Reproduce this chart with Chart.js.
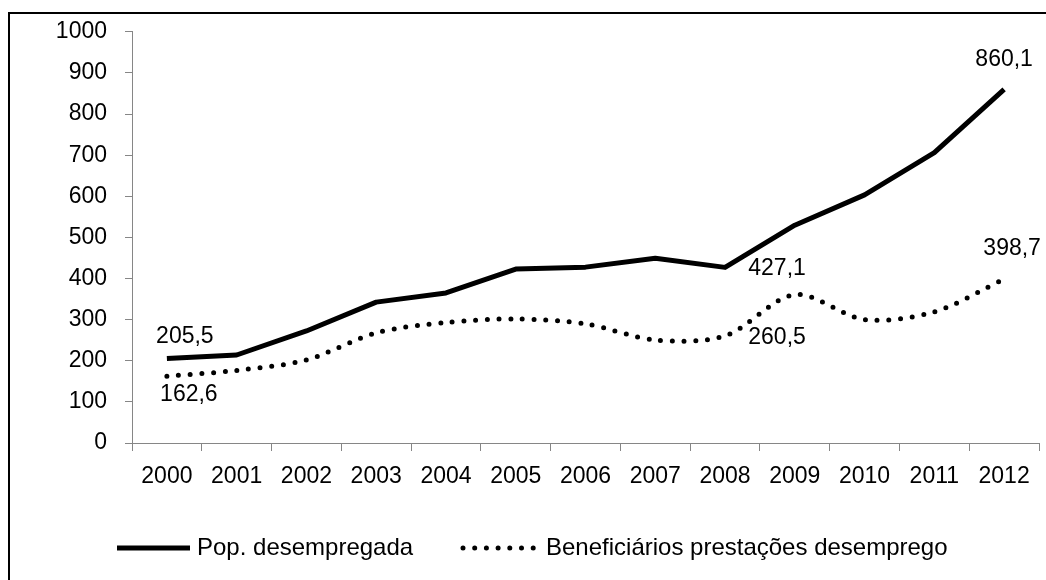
<!DOCTYPE html>
<html>
<head>
<meta charset="utf-8">
<script src="https://cdn.jsdelivr.net/npm/chart.js@4/dist/chart.umd.min.js"></script>
<style>
  html, body { margin: 0; padding: 0; background: #ffffff; }
  #wrap { width: 1046px; height: 580px; position: relative; }
</style>
</head>
<body>
<div id="wrap"><canvas id="grafico"></canvas></div>
<script>
// Datos (milhares)
const anos = ['2000','2001','2002','2003','2004','2005','2006','2007','2008','2009','2010','2011','2012'];
const popDesempregada = [205.5, 214, 272.5, 342.6, 365, 422.9, 427.7, 449.4, 427.1, 529.7, 603.5, 706, 860.1];
const beneficiarios = [162.6, 176.5, 202, 268, 293, 301.7, 289.7, 250.4, 260.5, 361, 300, 319, 398.7];
const rotulosPop = ['205,5', null, null, null, null, null, null, null, '427,1', null, null, null, '860,1'];
const rotulosBenef = ['162,6', null, null, null, null, null, null, null, '260,5', null, null, null, '398,7'];
const yTicks = [0, 100, 200, 300, 400, 500, 600, 700, 800, 900, 1000];

const FONTE = "'Liberation Sans', Arial, sans-serif";
const cinzaEixo = '#868686';

// deslocamento dos rótulos em relação ao ponto (px)
const posRotulos = [
  { 0: [18, -22], 8: [52, 1], 12: [0, -30] },
  { 0: [22, 19], 8: [52, 2], 12: [8, -30] }
];

// moldura à volta do gráfico
const moldura = {
  id: 'moldura',
  beforeDraw(chart) {
    const ctx = chart.ctx;
    ctx.save();
    ctx.strokeStyle = '#000';
    ctx.lineWidth = 2;
    ctx.strokeRect(9, 13, chart.width + 20, chart.height + 20);
    ctx.restore();
  }
};

// rótulos de valores
const rotulos = {
  id: 'rotulos',
  afterDatasetsDraw(chart) {
    const ctx = chart.ctx;
    ctx.save();
    ctx.font = '23px ' + FONTE;
    ctx.fillStyle = '#000';
    ctx.textAlign = 'center';
    ctx.textBaseline = 'middle';
    chart.data.datasets.forEach((ds, i) => {
      const meta = chart.getDatasetMeta(i);
      ds.rotulos.forEach((txt, j) => {
        if (!txt) return;
        const p = meta.data[j];
        const off = posRotulos[i][j] || [0, -20];
        ctx.fillText(txt, p.x + off[0], p.y + off[1]);
      });
    });
    ctx.restore();
  }
};

// legenda desenhada à mão (espaçamento como no original)
const legenda = {
  id: 'legenda',
  afterDraw(chart) {
    const ctx = chart.ctx;
    const y = 548;
    const itens = [
      { x: 117, gap: 7 },
      { x: 463, gap: 10 }
    ];
    ctx.save();
    chart.data.datasets.forEach((ds, i) => {
      const it = itens[i];
      ctx.beginPath();
      ctx.strokeStyle = ds.borderColor;
      ctx.lineWidth = ds.borderWidth;
      ctx.lineCap = ds.borderCapStyle || 'butt';
      ctx.setLineDash(ds.borderDash || []);
      ctx.moveTo(it.x, y);
      ctx.lineTo(it.x + 73, y);
      ctx.stroke();
      ctx.setLineDash([]);
      ctx.font = '24px ' + FONTE;
      ctx.fillStyle = '#000';
      ctx.textAlign = 'left';
      ctx.textBaseline = 'middle';
      ctx.fillText(ds.label, it.x + 73 + it.gap, y);
    });
    ctx.restore();
  }
};

new Chart(document.getElementById('grafico'), {
  type: 'line',
  data: {
    labels: anos,
    datasets: [
      {
        label: 'Pop. desempregada',
        data: popDesempregada,
        rotulos: rotulosPop,
        borderColor: '#000',
        borderWidth: 5,
        borderCapStyle: 'butt',
        borderJoinStyle: 'round',
        pointRadius: 0,
        tension: 0,
        fill: false
      },
      {
        label: 'Beneficiários prestações desemprego',
        data: beneficiarios,
        rotulos: rotulosBenef,
        borderColor: '#000',
        borderWidth: 5,
        borderDash: [0, 11.7],
        borderCapStyle: 'round',
        pointRadius: 0,
        tension: 0.3,
        fill: false
      }
    ]
  },
  options: {
    responsive: true,
    maintainAspectRatio: false,
    animation: false,
    devicePixelRatio: 1,
    layout: { padding: { left: 0, top: 29, right: 7, bottom: 0 } },
    plugins: {
      legend: { display: false },
      tooltip: { enabled: false }
    },
    scales: {
      x: {
        offset: true,
        afterFit(scale) { scale.height = 137; },
        grid: { offset: true, drawOnChartArea: false, drawTicks: true, tickLength: 8, color: cinzaEixo },
        border: { color: cinzaEixo, width: 1 },
        ticks: { color: '#000', padding: 12, maxRotation: 0, font: { family: FONTE, size: 23 } }
      },
      y: {
        min: 0,
        max: 1000,
        afterFit(scale) { scale.width = 132; },
        afterBuildTicks(scale) { scale.ticks = yTicks.map(v => ({ value: v })); },
        grid: { drawOnChartArea: false, drawTicks: true, tickLength: 7, color: cinzaEixo },
        border: { color: cinzaEixo, width: 1 },
        ticks: {
          color: '#000',
          padding: 18,
          font: { family: FONTE, size: 23 },
          callback: v => String(v)
        }
      }
    }
  },
  plugins: [moldura, rotulos, legenda]
});
</script>
</body>
</html>
